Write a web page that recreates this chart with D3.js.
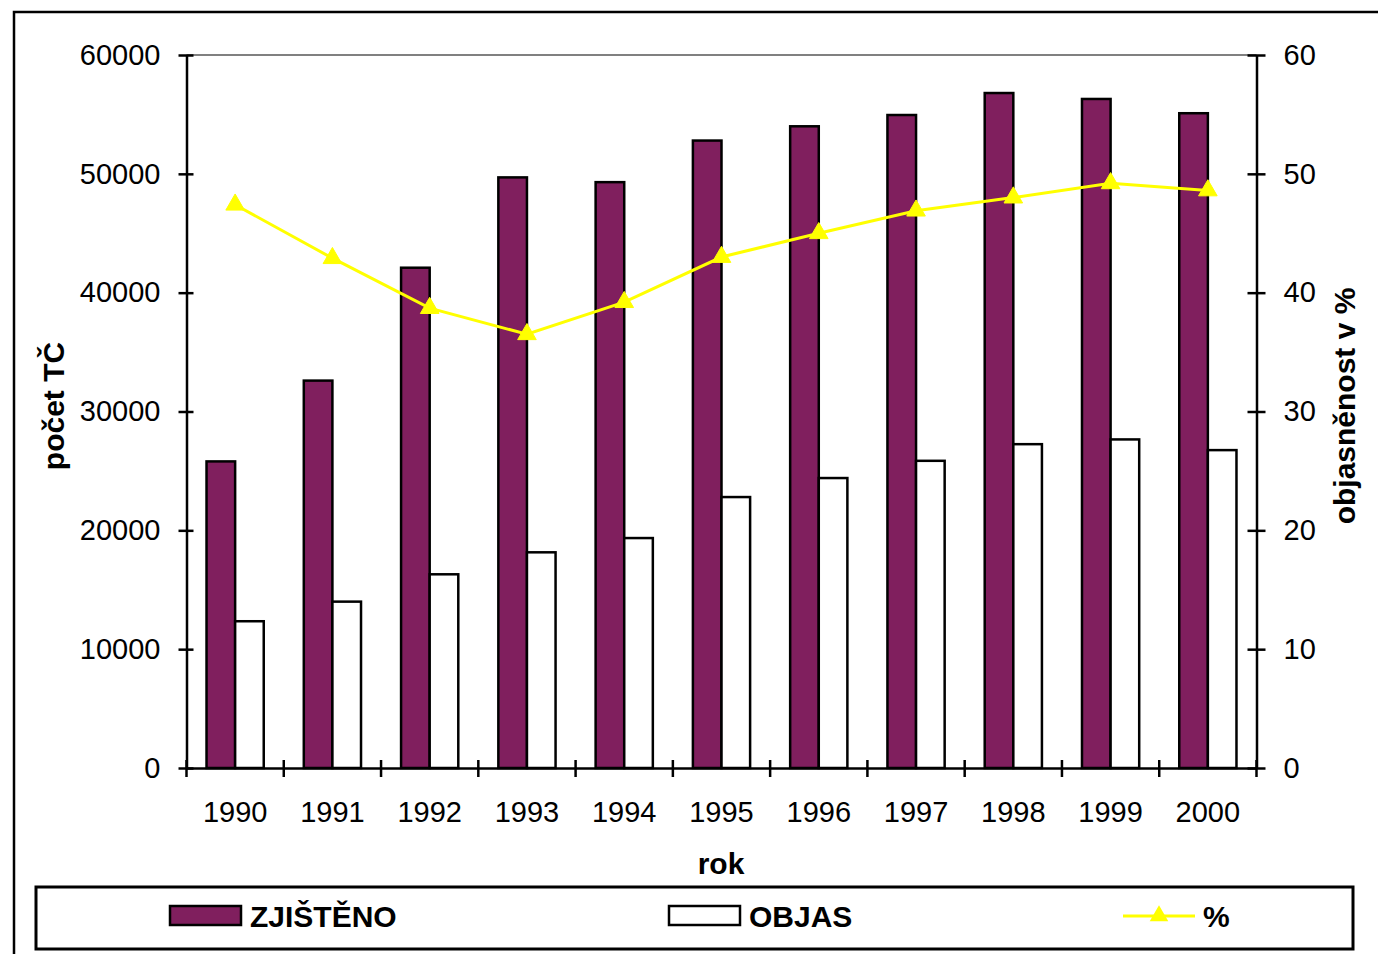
<!DOCTYPE html>
<html><head><meta charset="utf-8">
<script src="https://cdn.jsdelivr.net/npm/d3@7"></script>
<style>
html,body{margin:0;padding:0;background:#fff;}
svg{display:block;}
text{font-family:"Liberation Sans",Arial,sans-serif;fill:#000;}
</style></head>
<body>
<svg id="chart" width="1378" height="954"></svg>
<script>
const years = ["1990","1991","1992","1993","1994","1995","1996","1997","1998","1999","2000"];
const zjisteno = [25800, 32600, 42100, 49700, 49300, 52800, 54000, 54950, 56800, 56300, 55100];
const objas = [12350, 14000, 16300, 18150, 19350, 22800, 24400, 25850, 27250, 27650, 26750];
const procenta = [47.4, 42.9, 38.7, 36.5, 39.2, 43.0, 45.0, 46.9, 48.0, 49.2, 48.6];
const leftTicks = [0, 10000, 20000, 30000, 40000, 50000, 60000];
const rightTicks = [0, 10, 20, 30, 40, 50, 60];
const seriesNames = ["ZJIŠTĚNO", "OBJAS", "%"];

const svg = d3.select("#chart");
const L = 186.5, R = 1256.5, T = 55, B = 768;
const purple = "#801F5E", yellow = "#FFFF00";

// outer frame
svg.append("rect").attr("x", 14).attr("y", 12).attr("width", 1400).attr("height", 1000)
  .attr("fill", "none").attr("stroke", "#000").attr("stroke-width", 2.5);

const x = d3.scaleBand().domain(years).range([L, R]).paddingInner(0).paddingOuter(0);
const x1 = d3.scaleBand().domain([0, 1]).range([0, x.bandwidth()]).paddingInner(0).paddingOuter(0.7);
const yL = d3.scaleLinear().domain([0, 60000]).range([B, T]);
const yR = d3.scaleLinear().domain([0, 60]).range([B, T]);

// plot top border
svg.append("line").attr("x1", L).attr("x2", R).attr("y1", T).attr("y2", T)
  .attr("stroke", "#808080").attr("stroke-width", 2);

// bars
const data = years.map((y, i) => ({year: y, vals: [zjisteno[i], objas[i]]}));
const g = svg.append("g");
g.selectAll("g.grp").data(data).join("g").attr("class", "grp")
  .attr("transform", d => `translate(${x(d.year)},0)`)
  .selectAll("rect").data(d => d.vals.map((v, k) => ({v, k})))
  .join("rect")
  .attr("x", d => x1(d.k))
  .attr("width", x1.bandwidth())
  .attr("y", d => yL(d.v))
  .attr("height", d => B - yL(d.v))
  .attr("fill", d => d.k === 0 ? purple : "#fff")
  .attr("stroke", "#000").attr("stroke-width", 2.5);

// axes
const tickFont = 29;
const axL = svg.append("g").attr("transform", `translate(${L},0)`)
  .call(d3.axisLeft(yL).tickValues(leftTicks).tickFormat(d3.format("d")).tickSize(8).tickSizeOuter(0).tickPadding(18));
const axR = svg.append("g").attr("transform", `translate(${R},0)`)
  .call(d3.axisRight(yR).tickValues(rightTicks).tickFormat(d3.format("d")).tickSize(9).tickSizeOuter(0).tickPadding(18));
const axB = svg.append("g").attr("transform", `translate(0,${B})`)
  .call(d3.axisBottom(x).tickValues([]).tickSizeOuter(0));
[axL, axR, axB].forEach(a => {
  a.select(".domain").attr("stroke", "#000").attr("stroke-width", 2.5);
  a.selectAll(".tick line").attr("stroke", "#000").attr("stroke-width", 2.5);
  a.selectAll("text").attr("font-size", tickFont).attr("font-family", "Liberation Sans, Arial, sans-serif").attr("fill", "#222");
});
// ticks crossing the axes
axL.selectAll(".tick line").attr("x1", 7);
axR.selectAll(".tick line").attr("x1", -9);
// x ticks at category boundaries
const bounds = years.map(y => x(y)).concat([R]);
svg.append("g").selectAll("line").data(bounds).join("line")
  .attr("x1", d => d).attr("x2", d => d).attr("y1", B - 8).attr("y2", B + 9)
  .attr("stroke", "#000").attr("stroke-width", 2.5);
// x labels
svg.append("g").selectAll("text").data(years).join("text")
  .attr("x", d => x(d) + x.bandwidth() / 2).attr("y", 822)
  .attr("text-anchor", "middle").attr("font-size", tickFont).attr("fill", "#222").text(d => d);

// line + markers
const xc = d => x(d) + x.bandwidth() / 2;
const lineData = years.map((y, i) => ({year: y, v: procenta[i]}));
svg.append("path").datum(lineData)
  .attr("d", d3.line().x(d => xc(d.year)).y(d => yR(d.v)))
  .attr("fill", "none").attr("stroke", yellow).attr("stroke-width", 3);
const tri = d3.symbol().type(d3.symbolTriangle).size(150);
svg.append("g").selectAll("path").data(lineData).join("path")
  .attr("transform", d => `translate(${xc(d.year)},${yR(d.v)})`)
  .attr("d", tri).attr("fill", yellow).attr("stroke", yellow).attr("stroke-width", 1);

// axis titles
svg.append("text").attr("transform", "translate(64,406) rotate(-90)")
  .attr("text-anchor", "middle").attr("font-size", 30).attr("font-weight", "bold").text("počet TČ");
svg.append("text").attr("transform", "translate(1355,406) rotate(-90)")
  .attr("text-anchor", "middle").attr("font-size", 30).attr("font-weight", "bold").text("objasněnost v %");
svg.append("text").attr("x", 721).attr("y", 874)
  .attr("text-anchor", "middle").attr("font-size", 30).attr("font-weight", "bold").text("rok");

// legend
svg.append("rect").attr("x", 36).attr("y", 887).attr("width", 1317).attr("height", 62)
  .attr("fill", "#fff").attr("stroke", "#000").attr("stroke-width", 3);
const lg = svg.append("g");
const legX = [170, 669, 1123];
lg.append("rect").attr("x", legX[0]).attr("y", 906).attr("width", 71).attr("height", 19)
  .attr("fill", purple).attr("stroke", "#000").attr("stroke-width", 2.5);
lg.append("rect").attr("x", legX[1]).attr("y", 906).attr("width", 71).attr("height", 19)
  .attr("fill", "#fff").attr("stroke", "#000").attr("stroke-width", 2.5);
lg.append("line").attr("x1", legX[2]).attr("x2", legX[2] + 72).attr("y1", 916).attr("y2", 916)
  .attr("stroke", yellow).attr("stroke-width", 3);
lg.append("path").attr("transform", `translate(${legX[2] + 36},916)`).attr("d", tri).attr("fill", yellow);
lg.selectAll("text").data(seriesNames).join("text")
  .attr("x", (d, i) => legX[i] + 80).attr("y", 927)
  .attr("font-size", 30).attr("font-weight", "bold").text(d => d);
</script>
</body></html>
